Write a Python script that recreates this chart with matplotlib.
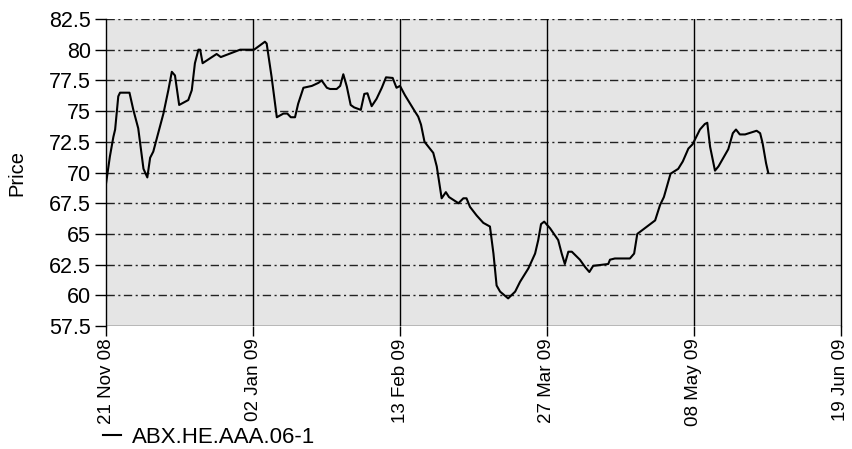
import datetime as dt

import matplotlib
matplotlib.use("Agg")
import matplotlib.dates as mdates
import matplotlib.pyplot as plt
import numpy as np

plt.rcParams["font.family"] = ["Liberation Sans", "DejaVu Sans"]

# data: days after 21 Nov 2008, price
start_date = dt.datetime(2008, 11, 21)
day_offsets = [
    0, 1.1, 2.1, 2.6, 3.5, 4, 6.7, 7.8, 9.2, 10.7, 11.8, 12.6, 13.5, 16.4,
    17.8, 18.8, 19.7, 20.9, 23.5, 24.5, 25.4, 26.4, 26.9, 27.6, 31.6, 32.8,
    38.3, 42.3, 45.4, 45.9, 47.3, 48.8, 50.7, 51.8, 52.8, 54, 54.9, 56.4,
    58.8, 60.7, 61.6, 63.1, 64, 65.9, 66.9, 67.8, 68.8, 69.9, 70.9, 72.8,
    73.8, 74.7, 75.9, 77.3, 78.8, 80, 81.9, 83, 84, 85.4, 88.3, 89.2, 90,
    91, 92.1, 93.5, 94.5, 95.9, 97.1, 98, 100.7, 102.1, 103, 104, 105.9,
    107.8, 109.7, 110.7, 111.6, 112.6, 114.9, 116.9, 118.3, 120.7, 122.6,
    123.5, 124.3, 125.2, 126.9, 129.2, 130.2, 131.1, 132.1, 133.1, 135.4,
    136.9, 138.1, 139.2, 143.5, 144, 145.4, 149.7, 150.9, 151.8, 156.9,
    158.3, 159.4, 161.3, 163.5, 164.8, 166.4, 167.6, 169.7, 171.1, 171.8,
    172.6, 174, 175, 177.8, 179.1, 180, 181.1, 182.6, 185.9, 186.9, 187.6,
    188.6, 189.2,
]
prices = [
    69.1, 71.3, 72.9, 73.5, 76.2, 76.5, 76.5, 75.1, 73.6, 70.3, 69.6, 71.2,
    71.7, 74.8, 76.7, 78.2, 77.9, 75.5, 75.9, 76.7, 78.9, 80.0, 80.0, 78.9,
    79.65, 79.4, 80.0, 80.0, 80.65, 80.5, 77.8, 74.5, 74.8, 74.8, 74.5,
    74.5, 75.6, 76.9, 77.05, 77.3, 77.5, 76.9, 76.8, 76.8, 77.05, 78.0,
    77.0, 75.5, 75.3, 75.1, 76.4, 76.45, 75.4, 76.0, 76.9, 77.75, 77.7,
    76.9, 77.05, 76.3, 74.95, 74.55, 73.9, 72.5, 72.1, 71.6, 70.5, 67.9,
    68.4, 68.0, 67.5, 67.9, 67.9, 67.2, 66.5, 65.9, 65.6, 63.4, 60.8, 60.3,
    59.75, 60.3, 61.1, 62.2, 63.4, 64.5, 65.8, 66.0, 65.45, 64.5, 63.4,
    62.55, 63.55, 63.55, 62.9, 62.3, 61.9, 62.4, 62.55, 62.9, 63.0, 63.0,
    63.4, 65.0, 66.1, 67.35, 68.0, 69.9, 70.3, 70.9, 71.95, 72.3, 73.5,
    73.95, 74.05, 72.1, 70.15, 70.5, 71.9, 73.2, 73.5, 73.1, 73.1, 73.4,
    73.2, 72.4, 70.75, 70.0,
]
series_name = "ABX.HE.AAA.06-1"
tick_step_days = 42
n_ticks = 6
y_ticks = [57.5, 60, 62.5, 65, 67.5, 70, 72.5, 75, 77.5, 80, 82.5]

dates = [start_date + dt.timedelta(days=d) for d in day_offsets]
x_ticks = [start_date + dt.timedelta(days=tick_step_days * i) for i in range(n_ticks)]

fig = plt.figure(figsize=(8.53, 4.49), dpi=100)
ax = fig.add_axes([0.1243, 0.2739, 0.8616, 0.6838])
ax.set_facecolor("#e5e5e5")

dashdot = (0, (6, 2.5, 1.5, 2.5))
for yv in y_ticks[1:]:
    ax.axhline(yv, color="#222222", lw=1.0, ls=dashdot, zorder=1)
for xv in x_ticks[1:-1]:
    ax.axvline(xv, color="black", lw=1.0, zorder=1)

line, = ax.plot(dates, prices, color="black", lw=1.5, zorder=3, label=series_name)

ax.set_xlim(x_ticks[0], x_ticks[-1])
ax.set_ylim(y_ticks[0], y_ticks[-1])
ax.set_xticks(x_ticks)
ax.xaxis.set_major_formatter(mdates.DateFormatter("%d %b %y"))
ax.set_yticks(y_ticks)
ax.set_yticklabels([f"{v:g}" for v in y_ticks])
for lab in ax.get_xticklabels():
    lab.set_rotation(90)
ax.tick_params(axis="both", direction="out", width=1, color="black")
ax.tick_params(axis="x", labelsize=13.5, length=7, pad=2)
ax.tick_params(axis="y", labelsize=15.5, length=8, pad=3)
for sp in ["top", "bottom"]:
    ax.spines[sp].set_visible(False)
for sp in ["left", "right"]:
    ax.spines[sp].set_linewidth(1.0)
ax.axhline(y_ticks[0], color="black", lw=1.0, zorder=4)
ax.set_ylabel("Price", fontsize=14.5, labelpad=16)

fig.legend(handles=[line], labels=[series_name], loc="center left",
           bbox_to_anchor=(0.121, 0.026), frameon=False, fontsize=16,
           handlelength=0.8, handletextpad=0.5, borderpad=0, borderaxespad=0)

fig.savefig("out.png", dpi=100)
